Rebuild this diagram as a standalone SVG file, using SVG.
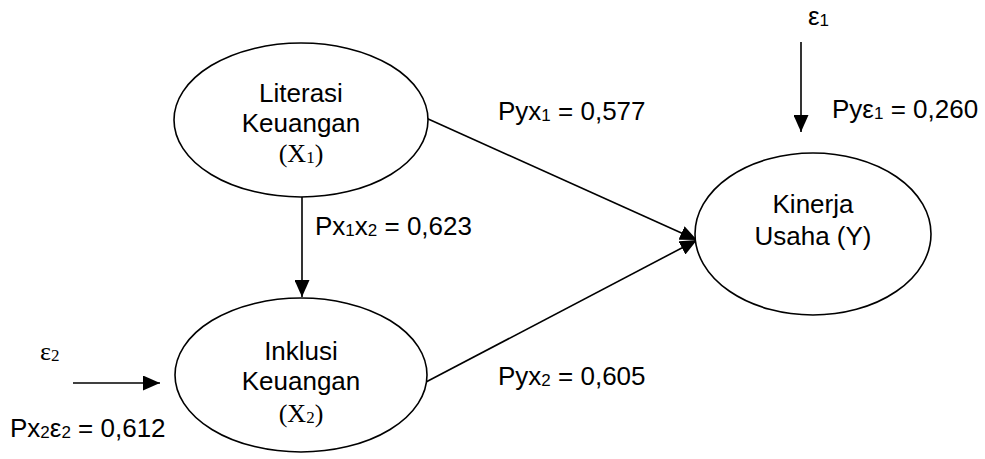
<svg xmlns="http://www.w3.org/2000/svg" width="985" height="459" viewBox="0 0 985 459">
<style>
.node{fill:#fff;stroke:#000;stroke-width:1.6}
.edge{stroke:#000;stroke-width:1.6;fill:none}
.t{font-family:"Liberation Sans",Arial,sans-serif;font-size:26px;fill:#000}
.s{font-family:"Liberation Serif","Times New Roman",serif;font-size:26px;fill:#000}
.sub{font-size:17px}
</style>
<defs>
<marker id="ah" markerUnits="userSpaceOnUse" markerWidth="17" markerHeight="15" refX="17" refY="7.5" orient="auto">
<path d="M0,0 L17,7.5 L0,15 z" fill="#000"/>
</marker>
</defs>
<g id="connectors">
<line class="edge" x1="426" y1="118" x2="697" y2="240" marker-end="url(#ah)"/>
<line class="edge" x1="426" y1="382" x2="697" y2="240" marker-end="url(#ah)"/>
<line class="edge" x1="302" y1="197" x2="302" y2="297" marker-end="url(#ah)"/>
<line class="edge" x1="801" y1="42" x2="801" y2="132" marker-end="url(#ah)"/>
<line class="edge" x1="73" y1="383" x2="160" y2="383" marker-end="url(#ah)"/>
</g>
<g id="X1">
<ellipse class="node" cx="301" cy="120" rx="127" ry="77"/>
<text class="t" x="301" y="102" text-anchor="middle">Literasi</text>
<text class="t" x="301" y="132" text-anchor="middle">Keuangan</text>
<text class="s" x="301" y="162" text-anchor="middle">(X<tspan class="sub" dy="1">1</tspan><tspan dy="-1">)</tspan></text>
</g>
<g id="X2">
<ellipse class="node" cx="301" cy="375" rx="126" ry="77"/>
<text class="t" x="301" y="360" text-anchor="middle">Inklusi</text>
<text class="t" x="301" y="390" text-anchor="middle">Keuangan</text>
<text class="s" x="301" y="422" text-anchor="middle">(X<tspan class="sub" dy="1">2</tspan><tspan dy="-1">)</tspan></text>
</g>
<g id="Y">
<ellipse class="node" cx="813" cy="234" rx="118" ry="81"/>
<text class="t" x="813" y="213" text-anchor="middle">Kinerja</text>
<text class="t" x="813" y="245" text-anchor="middle">Usaha (Y)</text>
</g>
<g id="labels">
<text class="t" x="498" y="120">Pyx<tspan class="sub" dy="1">1</tspan><tspan dy="-1"> = 0,577</tspan></text>
<text class="t" x="832" y="118">Pyε<tspan class="sub" dy="1">1</tspan><tspan dy="-1"> = 0,260</tspan></text>
<text class="t" x="315" y="235">Px<tspan class="sub" dy="1">1</tspan><tspan dy="-1">x</tspan><tspan class="sub" dy="1">2</tspan><tspan dy="-1"> = 0,623</tspan></text>
<text class="t" x="498" y="385">Pyx<tspan class="sub" dy="1">2</tspan><tspan dy="-1"> = 0,605</tspan></text>
<text class="t" x="10" y="437">Px<tspan class="sub" dy="1">2</tspan><tspan dy="-1">ε</tspan><tspan class="sub" dy="1">2</tspan><tspan dy="-1"> = 0,612</tspan></text>
<text class="t" x="808" y="25">ε<tspan class="sub" dy="1">1</tspan></text>
<text class="s" x="40" y="360">ε<tspan class="sub" dy="1">2</tspan></text>
</g>
</svg>
